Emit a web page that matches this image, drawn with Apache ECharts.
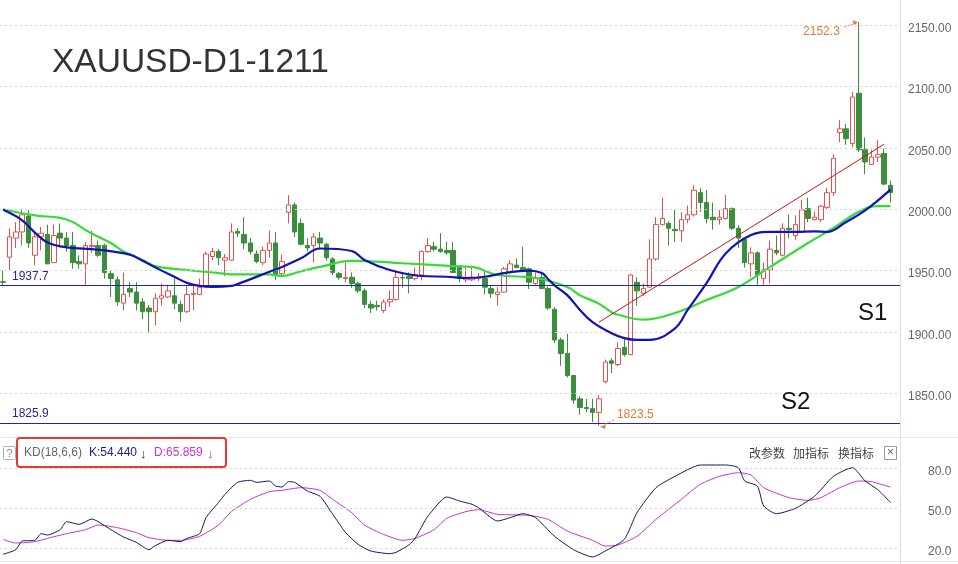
<!DOCTYPE html>
<html><head><meta charset="utf-8">
<script src="https://cdn.jsdelivr.net/npm/echarts@6/dist/echarts.min.js"></script>
<style>html,body{margin:0;padding:0;background:#fff}#c{width:958px;height:564px}</style>
</head><body><div id="c"></div>
<script>
// ---------- data ----------
const categories = Array.from({length: 142}, (_, i) => 'bar' + i); // bar slots, last one empty
// [open, close, low, high]
const ohlc = [[1941,1940.5,1938,1950],
[1961,1977.5,1950.5,1984.5],[1976.5,1981.5,1968.5,1989.5],[1981.5,1995.5,1970.5,2000.5],[1994.5,1972.5,1968.5,1999.5],
[1962.5,1977.5,1954.5,1981.5],[1977.5,1980.5,1966.5,1985.5],[1979.5,1955.5,1955.5,1987.5],[1956.5,1978.5,1956.5,1987.5],
[1980.5,1976.5,1970.5,1988.5],[1976.5,1970.5,1965.5,1981.5],[1970.5,1956.5,1951.5,1981.5],[1957.5,1955.5,1951.5,1962.5],
[1955.5,1970.5,1938.5,1973.5],[1969.5,1970.5,1964.5,1982.5],[1970.5,1962.5,1961,1974.5],[1970.5,1948.5,1943.5,1972],
[1947.5,1943.5,1928.5,1950.5],[1942.5,1924.5,1921.5,1945],[1923.5,1930.5,1917.5,1948.5],[1935.5,1932.5,1928.5,1940.5],
[1932.5,1923.5,1917.5,1940.5],[1924.5,1916.5,1910.5,1927.5],[1919.5,1916.5,1899.5,1922],[1916.5,1927.5,1905.5,1931.5],
[1927.5,1929.5,1921.5,1939.5],[1928.5,1933.5,1927.5,1938],[1929.5,1923.5,1918.5,1943.5],[1922.5,1916.5,1908.5,1925.5],
[1916.5,1930.5,1915.5,1937.5],[1930.5,1931.5,1917.5,1938.5],[1930.5,1936.5,1930,1943.5],[1937.5,1963.5,1937,1965.5],
[1961.5,1965.5,1958.5,1968.5],[1965.5,1960.5,1954.5,1967.5],[1958.5,1960.5,1945.5,1963.5],[1958.5,1981.5,1958.5,1988.5],
[1982,1980.5,1977.5,1984.5],[1979.5,1972.5,1967.5,1993.5],[1972.5,1965.5,1963,1976.5],[1963.5,1957.5,1956,1966.5],
[1956.5,1966.5,1954.5,1969.5],[1966.5,1972.5,1960.5,1982.5],[1972.5,1946.5,1942.5,1981.5],[1947.5,1957.5,1946.5,1963],
[1997.5,2003.5,1988.5,2011.5],[2003.5,1981.5,1977.5,2005.5],[1988.5,1971.5,1970.5,1992.5],[1970.5,1968.5,1965.5,1976.5],
[1970.5,1977.5,1956.5,1980.5],[1976.5,1972.5,1968,1981.5],[1971.5,1960.5,1958,1972.5],[1959.5,1948.5,1946.5,1961],
[1947.5,1944.5,1942.5,1949],[1943.5,1944.5,1940.5,1956.5],[1944.5,1939.5,1936,1948.5],[1939.5,1933.5,1931.5,1941],
[1933.5,1922.5,1919.5,1935.5],[1922.5,1919.5,1915.5,1925.5],[1921.5,1920.5,1917.5,1925.5],[1917.5,1924.5,1915.5,1926.5],
[1924.5,1926.5,1920.5,1934],[1926.5,1944.5,1925.5,1950.5],[1944.5,1944,1936,1948.5],[1945.5,1943.5,1931.5,1948.5],
[1943.5,1946.5,1942,1952.5],[1946.5,1965.5,1942,1966.5],[1965.5,1970.5,1964.5,1976.5],[1969.5,1967.5,1965.5,1973.5],
[1967.5,1965.5,1964.5,1980.5],[1966.5,1964.5,1963,1973.5],[1966.5,1948.5,1948,1973.5],[1952.5,1943.5,1940.5,1954.5],
[1942.5,1944.5,1940.5,1952.5],[1942.5,1944.5,1941.5,1952.5],[1943.5,1944.5,1941.5,1948],[1943.5,1936.5,1930.5,1950.5],
[1935.5,1931.5,1928,1937.5],[1930.5,1932.5,1921.5,1936.5],[1932.5,1951.5,1932,1953],[1948.5,1955.5,1947.5,1958.5],
[1954.5,1952.5,1952,1960],[1952.5,1950.5,1950,1969.5],[1951.5,1940.5,1935,1952.5],[1939.5,1944.5,1938.5,1948.5],
[1944.5,1935.5,1935,1948.5],[1935.5,1919.5,1918,1937],[1918.5,1893.5,1891,1920.5],[1893.5,1882.5,1872.5,1895.5],
[1882.5,1864.5,1863,1898.5],[1864.5,1844.5,1841.5,1865],[1845.5,1838.5,1832.5,1847.5],[1838.5,1837.5,1834.5,1845.5],
[1837.5,1834.5,1826.5,1845.5],[1834.5,1845.5,1823.5,1848.5],[1859.5,1875.5,1858,1877.5],[1876.5,1874.5,1866.5,1878.5],
[1873.5,1886.5,1872,1891.5],[1887.5,1881.5,1880,1894.5],[1881.5,1946.5,1881,1947],[1940.5,1933.5,1921.5,1944.5],
[1931.5,1935.5,1929.5,1939.5],[1936.5,1959.5,1936,1975.5],[1959.5,1987.5,1958,1993.5],[1987.5,1992.5,1987,2009.5],
[1988.5,1984.5,1970.5,1990],[1983.5,1982.5,1973.5,1999.5],[1982.5,1991.5,1973.5,1997.5],[1991.5,1995.5,1988.5,2003],
[1995.5,2015.5,1994,2019.5],[2013.5,2005.5,1998,2017.5],[2005.5,1992.5,1988.5,2015.5],[1993.5,1991.5,1983.5,2005.5],
[1991.5,1993.5,1987.5,1999.5],[1992.5,2000.5,1991.5,2011.5],[2000.5,1984.5,1983,2001.5],[1984.5,1976.5,1968.5,1987],
[1975.5,1956.5,1952.5,1976],[1955.5,1964.5,1944.5,1969],[1964.5,1946.5,1938.5,1965.5],[1943.5,1950.5,1938.5,1956.5],
[1950.5,1967.5,1939.5,1974.5],[1966.5,1964.5,1962.5,1978.5],[1962.5,1984.5,1961.5,1988.5],[1984.5,1983.5,1976.5,1995.5],
[1978.5,1987.5,1975,1995],[1981.5,1999.5,1981,2007.5],[2000.5,1992.5,1989.5,2009.5],[1991.5,1993.5,1991,1998],
[1991.5,2002.5,1989.5,2003.5],[2001.5,2013.5,1999.5,2017.5],[2013.5,2041.5,2011,2044.5],[2062.5,2065.5,2054.5,2072.5],
[2065.5,2057.5,2052.5,2069.5],[2053.5,2091.5,2050.5,2095.5],[2094.5,2048.5,2046.5,2152.3],[2048.5,2038.5,2028.5,2058.5],
[2036.5,2042.5,2036,2048.5],[2042.5,2044.5,2038.5,2056.5],[2045.5,2020.5,2019.5,2049.5],[2019.5,2013.5,2005.5,2023.5],
'-'];
// moving averages: [slot, value]
const maBlue = [[0,1999.5],[3,1991],[5,1981],[7,1973],[10,1969],[15,1967],[20,1963],[22,1958],[25,1950],[27,1945],[29,1940],[31,1937.5],[33,1936.7],[36,1937.5],[37,1939],[42,1949],[44,1953],[47,1960],[50,1968],[55,1966],[57,1958.6],[61,1950.5],[66,1945.6],[70,1945],[73,1944],[76,1945],[79,1948],[83,1950],[85,1948],[86,1943],[87,1938],[89,1930],[91,1918],[93,1908],[96,1899],[98,1895],[100,1893.5],[102,1893.5],[106,1903],[108,1918],[111,1940],[114,1964],[118,1979],[121,1981.5],[125,1981.5],[128,1982],[130,1981.5],[133,1989.6],[136,1999],[140,2016]];
const maGreen = [[0,2000],[5,1995],[9,1993],[11,1989.6],[13,1983],[15,1977.6],[17,1972.5],[19,1965.5],[22,1958.6],[24,1953.7],[29,1950.5],[34,1948],[36,1947],[42,1947],[44,1945.6],[47,1949.5],[50,1953],[55,1958],[63,1956],[71,1953.7],[74,1953],[78,1946.4],[84,1944],[89,1936.7],[91,1930],[94,1923],[96,1916],[97,1914],[101,1910],[106,1915.5],[111,1926],[116,1936.7],[121,1953],[127,1972.5],[131,1984.7],[135,1998],[138,2002.6],[140,2002.6]];
// KD(18,6,6)
const kLine = [[0,15.5],[2,19],[3,25.5],[5,26],[6,31],[7,30],[9,34],[10,40],[12,38],[14,42],[15,40],[17,34],[19,28.5],[21,24.5],[23,19],[24,22],[26,26],[28,25],[29,27.5],[31,31],[32,43],[34,54.5],[35,60.5],[37,69.5],[39,71],[40,69.5],[42,70.5],[43,66.7],[44,66],[45,70],[46,69.5],[48,63],[50,59],[52,45.5],[54,32],[56,23],[58,18],[61,16],[62,17],[64,22.5],[65,27.5],[67,44],[70,58.5],[72,55.5],[74,53],[75,50.5],[78,40.5],[80,43],[82,46],[84,43],[87,29],[90,19],[93,13.5],[95,18],[98,26.7],[100,46.7],[103,65.5],[106,74],[110,82.5],[114,82.5],[116,80.5],[117,70.5],[119,66.7],[120,51.7],[122,46],[125,50],[128,59],[131,74],[134,80.5],[136,70.5],[138,64],[140,54.44]];
const dLine = [[0,26.7],[2,24],[5,25],[7,27.5],[10,31],[13,34],[15,37.5],[18,35.5],[21,31.8],[23,28],[26,26],[28,26],[31,29],[34,37.5],[36,47.5],[39,56.7],[42,62.5],[44,63.5],[47,65.5],[50,63.5],[52,56.7],[55,46.7],[57,37.5],[60,30.5],[63,26],[65,27.5],[68,34],[70,42.5],[73,47.5],[75,49],[78,45.5],[83,44.7],[86,41.7],[89,33],[93,26],[95,21.7],[97,22.5],[100,29],[103,41.7],[107,56.7],[110,68],[113,74],[116,76.7],[118,75],[120,65.5],[124,58],[127,56],[129,58],[132,65.5],[135,70.5],[137,70],[140,65.86]];
const priceTicks = [1850, 1900, 1950, 2000, 2050, 2100, 2150];
const kdTicks = [20, 50, 80];
const supportLevels = [1937.7, 1825.9];
const trendLine = [[94, 1908], [139, 2053]];
const highPoint = {slot: 135, value: 2152.3};
const lowPoint = {slot: 94, value: 1823.5};
const kdLast = {k: '54.440', d: '65.859'};

// ---------- chart ----------
const FONT = '"Liberation Sans", Arial, sans-serif';
const CJK = '"Noto Sans CJK SC", sans-serif';
const chart = echarts.init(document.getElementById('c'), null, {renderer: 'canvas'});
const hiddenX = (g) => ({type: 'category', data: categories, gridIndex: g, boundaryGap: true,
  axisLine: {show: false}, axisTick: {show: false}, axisLabel: {show: false}, splitLine: {show: false}});
const labelRich = {t: {color: '#666', fontSize: 12, fontFamily: FONT, padding: [7, 0, 0, 0]}};
const option = {
  animation: false,
  backgroundColor: '#fff',
  grid: [{left: 0, width: 900, top: 0, height: 432}, {left: 0, width: 900, top: 441, height: 120}],
  xAxis: [hiddenX(0), hiddenX(1)],
  yAxis: [
    {type: 'value', gridIndex: 0, position: 'right', min: 1818.5, max: 2170.5, scale: true,
     splitLine: {show: false}, axisLine: {show: false}, axisTick: {show: false},
     axisLabel: {customValues: priceTicks, formatter: v => '{t|' + Number(v).toFixed(2) + '}', rich: labelRich, margin: 8, align: 'left'}},
    {type: 'value', gridIndex: 1, position: 'right', min: 10.5, max: 100.5,
     splitLine: {show: false}, axisLine: {show: false}, axisTick: {show: false},
     axisLabel: {customValues: kdTicks, formatter: v => '{t|' + Number(v).toFixed(1) + '}', rich: labelRich, margin: 28, align: 'left'}}
  ],
  series: [
    {type: 'line', xAxisIndex: 0, yAxisIndex: 0, data: [], z: 1, silent: true,
     markLine: {silent: true, symbol: 'none', label: {show: false}, animation: false,
       lineStyle: {color: '#d6d6d6', type: [2, 3], width: 1},
       data: priceTicks.map(v => ({yAxis: v}))}},
    {type: 'line', xAxisIndex: 1, yAxisIndex: 1, data: [], z: 1, silent: true,
     markLine: {silent: true, symbol: 'none', label: {show: false}, animation: false,
       lineStyle: {color: '#d6d6d6', type: [2, 3], width: 1},
       data: kdTicks.map(v => ({yAxis: v}))}},
    {type: 'candlestick', xAxisIndex: 0, yAxisIndex: 0, data: ohlc, barWidth: 5, z: 3,
     itemStyle: {color: '#ffffff', borderColor: '#e05252', color0: '#3b8e3b', borderColor0: '#3b8e3b', borderWidth: 1},
     markLine: {silent: true, symbol: 'none', label: {show: false}, animation: false,
       data: [
         {yAxis: supportLevels[0], lineStyle: {color: '#2222b0', width: 1, type: 'solid'}},
         {yAxis: supportLevels[1], lineStyle: {color: '#2222b0', width: 1, type: 'solid'}},
         [{coord: trendLine[0], lineStyle: {color: '#b81c1c', width: 1, type: 'solid'}}, {coord: trendLine[1]}]
       ]}},
    {type: 'line', xAxisIndex: 0, yAxisIndex: 0, data: maGreen, smooth: 0.4, showSymbol: false, z: 4,
     lineStyle: {color: '#36dc36', width: 2.2}},
    {type: 'line', xAxisIndex: 0, yAxisIndex: 0, data: maBlue, smooth: 0.4, showSymbol: false, z: 5,
     lineStyle: {color: '#1212b8', width: 2.2}},
    {type: 'line', xAxisIndex: 1, yAxisIndex: 1, data: dLine, smooth: 0.2, showSymbol: false, z: 4,
     lineStyle: {color: '#cc30cc', width: 1}},
    {type: 'line', xAxisIndex: 1, yAxisIndex: 1, data: kLine, smooth: 0.2, showSymbol: false, z: 5,
     lineStyle: {color: '#16165e', width: 1}}
  ]
};
chart.setOption(option);

const px = (slot, v) => chart.convertToPixel({xAxisIndex: 0, yAxisIndex: 0}, [slot, v]);
const hp = px(highPoint.slot, highPoint.value);
const lp = px(lowPoint.slot, lowPoint.value);
const yS1 = px(0, supportLevels[0])[1];
const yS2 = px(0, supportLevels[1])[1];
const ORANGE = '#e47a34';
const txt = (x, y, text, fill, font, align) => ({type: 'text', x, y, z: 20,
  style: {text, fill, font, align: align || 'left', verticalAlign: 'middle'}});
chart.setOption({graphic: [
  // frames
  {type: 'line', shape: {x1: 900.5, y1: 0, x2: 900.5, y2: 564}, style: {stroke: '#e2e2e2', lineWidth: 1}},
  {type: 'line', shape: {x1: 0, y1: 437.5, x2: 958, y2: 437.5}, style: {stroke: '#e6e6e6', lineWidth: 1}},
  {type: 'line', shape: {x1: 0, y1: 561.5, x2: 958, y2: 561.5}, style: {stroke: '#e6e6e6', lineWidth: 1}},
  // title
  txt(52, 63, 'XAUUSD-D1-1211', '#333', '33.5px ' + FONT),
  // level labels
  txt(12, yS1 - 9, supportLevels[0].toFixed(1), '#2626a6', '12px ' + FONT),
  txt(12, yS2 - 9, supportLevels[1].toFixed(1), '#2626a6', '12px ' + FONT),
  txt(858, 313, 'S1', '#111', '24px ' + FONT),
  txt(781, 402, 'S2', '#111', '24px ' + FONT),
  // high / low annotations
  txt(hp[0] - 19, hp[1] + 9, highPoint.value.toFixed(1), ORANGE, '12px ' + FONT, 'right'),
  {type: 'line', z: 20, shape: {x1: hp[0] - 15, y1: hp[1] + 5, x2: hp[0] - 4, y2: hp[1] + 1}, style: {stroke: ORANGE, lineWidth: 1, lineDash: [2, 2]}},
  {type: 'polygon', z: 20, shape: {points: [[hp[0] - 1, hp[1]], [hp[0] - 6, hp[1] - 2], [hp[0] - 5, hp[1] + 3]]}, style: {fill: ORANGE}},
  txt(lp[0] + 18, lp[1] - 11, lowPoint.value.toFixed(1), ORANGE, '12px ' + FONT),
  {type: 'line', z: 20, shape: {x1: lp[0] + 15, y1: lp[1] - 6, x2: lp[0] + 5, y2: lp[1] - 1}, style: {stroke: ORANGE, lineWidth: 1, lineDash: [2, 2]}},
  {type: 'polygon', z: 20, shape: {points: [[lp[0] + 1, lp[1] + 1], [lp[0] + 7, lp[1] - 1], [lp[0] + 6, lp[1] + 3]]}, style: {fill: ORANGE}},
  // KD header
  {type: 'rect', z: 20, shape: {x: 3.5, y: 446.5, width: 12, height: 13, r: 1}, style: {fill: 'none', stroke: '#b0b0b0', lineWidth: 1}},
  txt(9.5, 453.5, '?', '#888', '11px ' + FONT, 'center'),
  {type: 'rect', z: 20, shape: {x: 17, y: 438, width: 209, height: 29, r: 3}, style: {fill: 'none', stroke: '#e63a32', lineWidth: 2}},
  txt(24, 453, 'KD(18,6,6)', '#666', '12px ' + FONT),
  txt(89, 453, 'K:' + kdLast.k, '#1e1e78', '12px ' + FONT),
  txt(140, 454, '\u2193', '#1e1e78', '13px ' + FONT),
  txt(154, 453, 'D:' + kdLast.d, '#d22ed2', '12px ' + FONT),
  txt(207, 454, '\u2193', '#d22ed2', '13px ' + FONT),
  txt(749, 453, '改参数', '#444', '12px ' + CJK),
  txt(793, 453, '加指标', '#444', '12px ' + CJK),
  txt(838, 453, '换指标', '#444', '12px ' + CJK),
  {type: 'rect', z: 20, shape: {x: 884.5, y: 446.5, width: 12, height: 13}, style: {fill: 'none', stroke: '#999', lineWidth: 1}},
  txt(890.5, 453, '\u00d7', '#666', '12px ' + FONT, 'center')
]});
</script>
</body></html>
